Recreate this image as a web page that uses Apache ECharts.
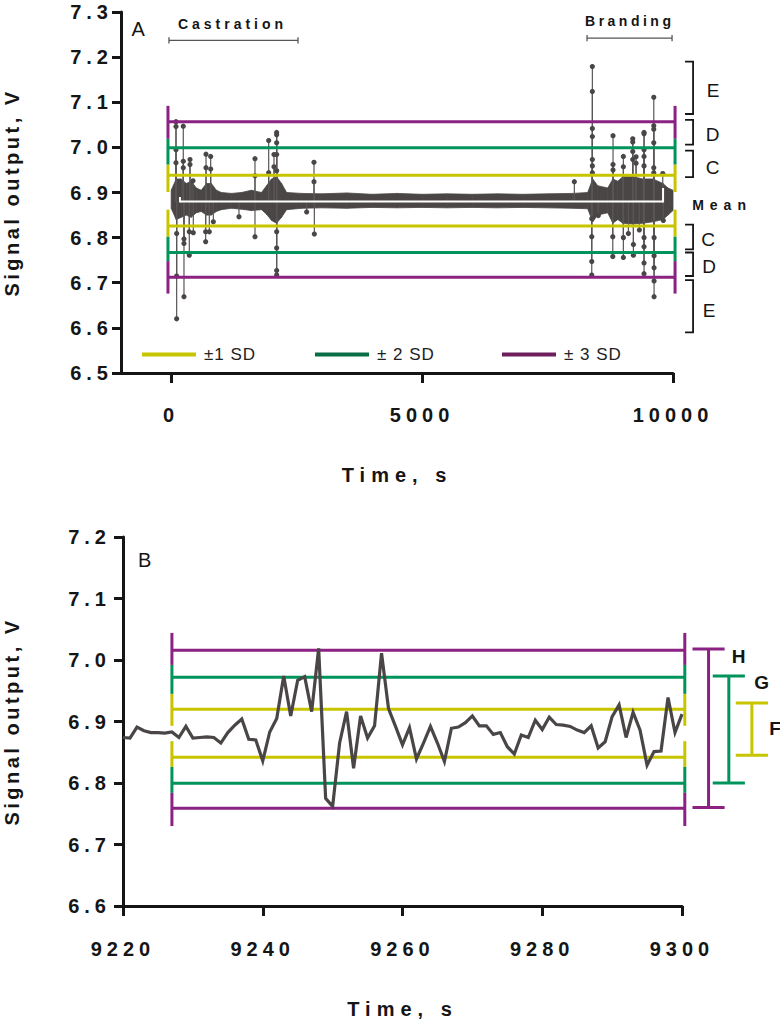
<!DOCTYPE html>
<html><head><meta charset="utf-8">
<script src="https://cdn.jsdelivr.net/npm/echarts@6/dist/echarts.min.js"></script>
<style>html,body{margin:0;padding:0;background:#fff}#c{width:780px;height:1021px}</style>
</head><body><div id="c"></div>
<script>
// ---------------- DATA ----------------
// Panel A: envelope of the dense signal band (time s, V)
const bandTimesA = [0,100,200,300,400,500,600,700,800,900,1000,1200,1400,1600,1800,1900,2000,2100,2200,2300,2600,3000,3500,4000,4500,5000,5500,6000,6500,7000,7500,8000,8300,8400,8500,8700,8800,8900,9000,9200,9400,9600,9800,9900,10000];
const bandUpperA = [6.905,6.93,6.93,6.92,6.925,6.91,6.905,6.92,6.92,6.905,6.9,6.898,6.9,6.905,6.9,6.915,6.93,6.935,6.92,6.9,6.898,6.897,6.899,6.896,6.898,6.896,6.897,6.896,6.897,6.896,6.897,6.898,6.9,6.93,6.915,6.91,6.93,6.925,6.935,6.935,6.93,6.93,6.92,6.91,6.905];
const bandLowerA = [6.865,6.84,6.845,6.85,6.845,6.855,6.858,6.85,6.85,6.858,6.862,6.865,6.863,6.86,6.862,6.852,6.838,6.832,6.845,6.862,6.865,6.866,6.865,6.867,6.866,6.867,6.866,6.867,6.866,6.867,6.866,6.865,6.864,6.835,6.85,6.855,6.832,6.84,6.832,6.83,6.832,6.835,6.84,6.85,6.86];
// Panel A: excursions (spikes) with visible sample dots
const spikeTimesA = [96,96,96,96,241,241,241,375,375,435,694,694,787,787,1670,1670,1943,1943,2049,2049,2102,2102,2102,2102,2102,2846,2846,
  109,109,109,255,255,255,361,361,441,687,687,760,840,1351,1670,2102,2102,2102,2102,2700,2853,
  8034,8393,8393,8393,8393,8393,8393,8393,8805,8805,8805,9011,9011,9198,9198,9198,9198,9264,9264,9423,9423,9423,9423,9423,9617,9617,9617,9617,9617,9617,9796,
  8381,8381,8381,8381,8512,8800,8800,9011,9011,9111,9211,9211,9330,9423,9423,9423,9423,9623,9623,9623,9623,9623,9808];
const spikeValuesA = [7.057,7.046,6.995,6.966,7.047,6.969,6.955,6.973,6.962,6.926,6.985,6.955,6.980,6.952,6.975,6.937,7.015,6.944,6.984,6.957,7.033,7.028,7.010,6.984,6.948,6.967,6.924,
  6.620,6.715,6.809,6.669,6.787,6.797,6.761,6.813,6.811,6.791,6.813,6.813,6.835,6.846,6.802,6.717,6.727,6.777,6.813,6.857,6.808,
  6.924,7.179,7.124,7.042,7.024,6.973,6.959,6.944,7.026,6.962,6.950,6.980,6.957,7.019,7.012,6.991,6.973,6.979,6.965,7.033,7.030,6.995,6.980,6.959,7.111,7.048,7.040,7.010,6.955,6.944,6.942,
  6.717,6.747,6.802,6.842,6.849,6.758,6.802,6.756,6.800,6.809,6.761,6.785,6.817,6.720,6.744,6.780,6.800,6.669,6.704,6.733,6.760,6.800,6.838];
const meanA = 6.880;
// Panel A: SD limits [upper, lower] and cap extents
const sdNames = ['±1 SD', '± 2 SD', '± 3 SD'];
const sdUpperA = [6.938, 6.999, 7.057];
const sdLowerA = [6.826, 6.767, 6.712];
const sdCapUpA = [[6.901,6.962],[6.962,7.019],[7.019,7.092]];
const sdCapLowA = [[6.802,6.862],[6.748,6.802],[6.676,6.748]];
// Panel A: bracket ranges C, D, E (top, bottom)
const bracketLabelsA = ['E','D','C','C','D','E'];
const bracketTopA = [7.190,7.061,6.993,6.829,6.767,6.706];
const bracketBottomA = [7.074,7.006,6.934,6.774,6.715,6.590];

// Panel B: 1 s samples from 9220 s
const startB = 9220;
const valuesB = [6.874,6.873,6.891,6.885,6.882,6.882,6.881,6.883,6.874,6.892,
  6.873,6.874,6.875,6.874,6.865,6.882,6.894,6.904,6.871,6.870,
  6.836,6.883,6.905,6.974,6.909,6.967,6.973,6.916,7.019,6.775,
  6.762,6.865,6.916,6.824,6.909,6.873,6.893,7.011,6.921,6.892,
  6.862,6.890,6.839,6.865,6.892,6.865,6.835,6.889,6.891,6.898,
  6.909,6.893,6.893,6.879,6.882,6.859,6.847,6.878,6.874,6.902,
  6.887,6.907,6.895,6.894,6.892,6.886,6.882,6.893,6.857,6.867,
  6.908,6.927,6.874,6.915,6.886,6.829,6.851,6.852,6.939,6.882,6.912];
const sdUpperB = [6.920, 6.972, 7.016];
const sdLowerB = [6.842, 6.7995, 6.759];
const sdCapUpB = [[6.893,6.945],[6.945,6.992],[6.992,7.044]];
const sdCapLowB = [[6.826,6.868],[6.784,6.826],[6.730,6.784]];
const rangeLabelsB = ['F','G','H'];
const rangeTopB = [6.930, 6.974, 7.018];
const rangeBottomB = [6.845, 6.800, 6.760];

// ---------------- STYLE ----------------
const FONT = "'Liberation Sans', Arial, Helvetica, sans-serif";
const INK = '#151515';
const SIG = '#4a4646';
const sdColors = ['#c9c400', '#00935c', '#8b2183'];
const legendColors = ['#c9c400', '#0a6e45', '#6e1f5c'];

const pairsB = valuesB.map((v, i) => [startB + i, v]);

function line(p, q, color, w) {
  return {type: 'line', shape: {x1: p[0], y1: p[1], x2: q[0], y2: q[1]}, style: {stroke: color, lineWidth: w}};
}

function sdSeries(k, upper, lower, capUp, capLow, x0, x1, gi, z) {
  const rows = [[upper[k], capUp[k][0], capUp[k][1]], [lower[k], capLow[k][0], capLow[k][1]]];
  const color = sdColors[k];
  return {
    type: 'custom', name: sdNames[k], xAxisIndex: gi, yAxisIndex: gi, z: z, silent: true,
    itemStyle: {color: color},
    data: rows,
    renderItem: function (params, api) {
      const v = api.value(0), lo = api.value(1), hi = api.value(2);
      return {type: 'group', children: [
        line(api.coord([x0, v]), api.coord([x1, v]), color, 3),
        line(api.coord([x0, lo]), api.coord([x0, hi]), color, 3),
        line(api.coord([x1, lo]), api.coord([x1, hi]), color, 3)
      ]};
    }
  };
}

function textSeries(items, gi) {
  return {
    type: 'custom', xAxisIndex: gi, yAxisIndex: gi, z: 20, silent: true,
    data: items.map((it, i) => [it.x, it.y, i]),
    renderItem: function (params, api) {
      const it = items[api.value(2)];
      const p = api.coord([it.x, it.y]);
      return {type: 'text', style: {text: it.text, x: p[0], y: p[1], align: it.align || 'center', verticalAlign: 'middle',
        fontFamily: FONT, fontSize: it.size, fontWeight: it.weight || 'normal', fill: it.color || INK}};
    }
  };
}

// ---------------- SERIES ----------------
const series = [];

// Panel A band
series.push({
  type: 'custom', xAxisIndex: 0, yAxisIndex: 0, z: 2, silent: true,
  data: bandTimesA.map((t, i) => [t, bandUpperA[i], bandLowerA[i]]),
  renderItem: function (params, api) {
    const i = params.dataIndex;
    if (i >= bandTimesA.length - 1) return null;
    const pts = [
      api.coord([bandTimesA[i], bandLowerA[i]]), api.coord([bandTimesA[i], bandUpperA[i]]),
      api.coord([bandTimesA[i + 1], bandUpperA[i + 1]]), api.coord([bandTimesA[i + 1], bandLowerA[i + 1]])
    ];
    return {type: 'polygon', shape: {points: pts}, style: {fill: SIG, stroke: SIG, lineWidth: 0.8}};
  }
});
// Panel A spikes
series.push({
  type: 'custom', xAxisIndex: 0, yAxisIndex: 0, z: 3, silent: true,
  data: spikeTimesA.map((t, i) => [t, spikeValuesA[i]]),
  renderItem: function (params, api) {
    const t = api.value(0), v = api.value(1);
    const p0 = api.coord([t, meanA]), p1 = api.coord([t, v]);
    return {type: 'group', children: [
      line(p0, p1, '#5a5656', 1.2),
      {type: 'circle', shape: {cx: p1[0], cy: p1[1], r: 2.6}, style: {fill: SIG}}
    ]};
  }
});
// Panel A mean line (white)
series.push({
  type: 'custom', xAxisIndex: 0, yAxisIndex: 0, z: 4, silent: true,
  data: [[175, meanA]],
  renderItem: function (params, api) {
    const a = api.coord([175, meanA]), b = api.coord([9802, meanA]);
    return {type: 'group', children: [
      line(a, b, '#ffffff', 2),
      line(api.coord([175, 6.878]), api.coord([175, 6.890]), '#ffffff', 2),
      line(api.coord([9802, 6.878]), api.coord([9802, 6.910]), '#ffffff', 2)
    ]};
  }
});
// Panel A SD lines
for (let k = 0; k < 3; k++) series.push(sdSeries(k, sdUpperA, sdLowerA, sdCapUpA, sdCapLowA, -64, 10041, 0, 6));
// Panel A right brackets
series.push({
  type: 'custom', xAxisIndex: 0, yAxisIndex: 0, z: 6, silent: true,
  data: bracketTopA.map((t, i) => [10400, t, bracketBottomA[i]]),
  renderItem: function (params, api) {
    const top = api.value(1), bot = api.value(2);
    const pts = [api.coord([10240, top]), api.coord([10400, top]), api.coord([10400, bot]), api.coord([10240, bot])];
    return {type: 'polyline', shape: {points: pts}, style: {stroke: INK, lineWidth: 1.8, fill: null}};
  }
});
// Panel A period brackets (Castration, Branding)
series.push({
  type: 'custom', xAxisIndex: 0, yAxisIndex: 0, z: 6, silent: true,
  data: [[-44, 2527, 7.237], [8287, 9981, 7.242]],
  renderItem: function (params, api) {
    const x0 = api.value(0), x1 = api.value(1), y = api.value(2);
    const c = '#555555';
    return {type: 'group', children: [
      line(api.coord([x0, y]), api.coord([x1, y]), c, 1.3),
      line(api.coord([x0, y - 0.007]), api.coord([x0, y + 0.007]), c, 1.3),
      line(api.coord([x1, y - 0.007]), api.coord([x1, y + 0.007]), c, 1.3)
    ]};
  }
});
// Panel A texts
const bracketLabelX = [10798, 10790, 10790, 10700, 10720, 10720];
const bracketLabelY = [7.127, 7.028, 6.956, 6.796, 6.735, 6.638];
series.push(textSeries([
  {text: 'A', x: -660, y: 7.263, size: 20},
  {text: 'Castration', x: 1222, y: 7.274, size: 14, weight: 'bold'},
  {text: 'Branding', x: 9138, y: 7.281, size: 14, weight: 'bold'},
  {text: 'Mean', x: 10978, y: 6.873, size: 14, weight: 'bold'}
].concat(bracketLabelsA.map((s, i) => ({text: s, x: bracketLabelX[i], y: bracketLabelY[i], size: 19}))), 0));

// Panel B SD lines
for (let k = 0; k < 3; k++) series.push(sdSeries(k, sdUpperB, sdLowerB, sdCapUpB, sdCapLowB, 9227, 9300.4, 1, 3));
// Panel B trace
series.push({
  type: 'line', xAxisIndex: 1, yAxisIndex: 1, z: 5, silent: true,
  data: pairsB, showSymbol: false, symbol: 'none',
  lineStyle: {color: SIG, width: 3.2, join: 'miter'}
});
// Panel B range brackets
const rangeVX = [9310.0, 9306.7, 9303.8];
series.push({
  type: 'custom', xAxisIndex: 1, yAxisIndex: 1, z: 6, silent: true,
  data: rangeTopB.map((t, i) => [rangeVX[i], t, rangeBottomB[i]]),
  renderItem: function (params, api) {
    const i = params.dataIndex;
    const color = sdColors[i];
    const vx = api.value(0), top = api.value(1), bot = api.value(2);
    return {type: 'group', children: [
      line(api.coord([vx, top]), api.coord([vx, bot]), color, 3),
      line(api.coord([vx - 2.3, top]), api.coord([vx + 2.3, top]), color, 3),
      line(api.coord([vx - 2.3, bot]), api.coord([vx + 2.3, bot]), color, 3)
    ]};
  }
});
const rangeLabelX = [9313.3, 9311.4, 9308.1];
const rangeLabelY = [6.888, 6.963, 7.005];
series.push(textSeries([
  {text: 'B', x: 9223.1, y: 7.163, size: 20}
].concat(rangeLabelsB.map((s, i) => ({text: s, x: rangeLabelX[i], y: rangeLabelY[i], size: 19, weight: 'bold'}))), 1));

// ---------------- AXES ----------------
const axisLine = {show: true, onZero: false, lineStyle: {color: INK, width: 3}};
const tickStyle = {show: true, inside: false, length: 9, lineStyle: {color: INK, width: 3}};
const tickLabel = {color: INK, fontFamily: FONT, fontSize: 20, fontWeight: 'bold'};
const nameStyle = {color: INK, fontFamily: FONT, fontSize: 20, fontWeight: 'bold'};
const plain = v => String(v);

const option = {
  animation: false,
  backgroundColor: '#ffffff',
  grid: [
    {left: 121, top: 12, width: 552, height: 361, containLabel: false, outerBoundsMode: 'none'},
    {left: 123, top: 537, width: 559, height: 369, containLabel: false, outerBoundsMode: 'none'}
  ],
  legend: sdNames.map((n, k) => ({
    left: [137, 310, 497][k], top: 341, selectedMode: false, icon: 'rect',
    itemWidth: 54, itemHeight: 4,
    data: [{name: n, itemStyle: {color: legendColors[k]}}],
    textStyle: {fontFamily: FONT, fontSize: 17, color: '#222', padding: [0, 0, 0, 3]}
  })),
  xAxis: [
    {gridIndex: 0, type: 'value', min: -1000, max: 10000,
     axisLine: axisLine, axisTick: Object.assign({}, tickStyle, {length: 10, customValues: [0, 5000, 10000]}),
     axisLabel: Object.assign({}, tickLabel, {margin: 32, customValues: [0, 5000, 10000], formatter: plain}),
     splitLine: {show: false},
     name: 'Time, s', nameLocation: 'middle', nameGap: 92, nameTextStyle: nameStyle},
    {gridIndex: 1, type: 'value', min: 9220, max: 9300, interval: 20,
     axisLine: axisLine, axisTick: Object.assign({}, tickStyle, {length: 10}),
     axisLabel: Object.assign({}, tickLabel, {margin: 33, formatter: plain}),
     splitLine: {show: false},
     name: 'Time, s', nameLocation: 'middle', nameGap: 93, nameTextStyle: nameStyle}
  ],
  yAxis: [
    {gridIndex: 0, type: 'value', min: 6.5, max: 7.3, interval: 0.1,
     axisLine: axisLine, axisTick: tickStyle,
     axisLabel: Object.assign({}, tickLabel, {margin: 8, formatter: v => v.toFixed(1)}),
     splitLine: {show: false},
     name: 'Signal output, V', nameLocation: 'middle', nameGap: 99, nameTextStyle: nameStyle},
    {gridIndex: 1, type: 'value', min: 6.6, max: 7.2, interval: 0.1,
     axisLine: axisLine, axisTick: tickStyle,
     axisLabel: Object.assign({}, tickLabel, {margin: 12, formatter: v => v.toFixed(1)}),
     splitLine: {show: false},
     name: 'Signal output, V', nameLocation: 'middle', nameGap: 101, nameTextStyle: nameStyle}
  ],
  series: series
};

const chart = echarts.init(document.getElementById('c'), null, {renderer: 'svg'});
chart.setOption(option);

function applySpacing() {
  const texts = document.querySelectorAll('#c svg text');
  texts.forEach(function (el) {
    const s = (el.textContent || '').trim();
    let sp = null;
    if (/^[0-9.,]+$/.test(s)) sp = '5px';
    else if (s === 'Time, s') sp = '6px';
    else if (s === 'Signal output, V') sp = '3.5px';
    else if (s === 'Castration') sp = '4px';
    else if (s === 'Branding') sp = '3.5px';
    else if (s === 'Mean') sp = '6px';
    else if (s.indexOf('SD') >= 0) sp = '1px';
    if (sp) el.style.letterSpacing = sp;
  });
}
applySpacing();
chart.on('finished', applySpacing);
setTimeout(applySpacing, 50);
setTimeout(applySpacing, 300);
</script>
</body></html>
